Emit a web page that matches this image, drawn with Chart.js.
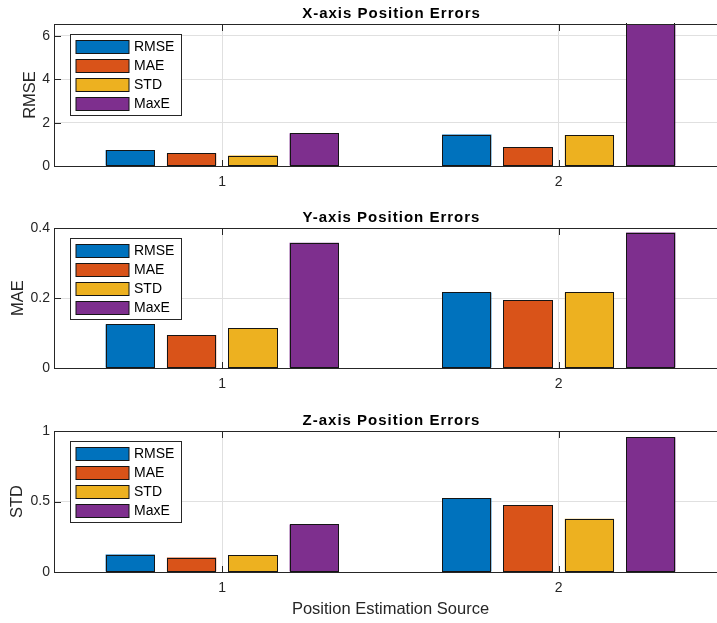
<!DOCTYPE html>
<html>
<head>
<meta charset="utf-8">
<script src="https://cdn.jsdelivr.net/npm/chart.js@4.4.1/dist/chart.umd.min.js"></script>
<style>
  html, body { margin: 0; padding: 0; background: #fff; }
  body { width: 717px; height: 623px; overflow: hidden; position: relative; }
  canvas { position: absolute; left: 0; }
</style>
</head>
<body>
<canvas id="px" width="740" height="200" style="top:0px"></canvas>
<canvas id="py" width="740" height="200" style="top:200px"></canvas>
<canvas id="pz" width="740" height="223" style="top:400px"></canvas>
<script>
// Estimation sources along the x axis
const categories = ['1', '2'];
const metricNames = ['RMSE', 'MAE', 'STD', 'MaxE'];
const metricColors = ['#0072BD', '#D95319', '#EDB120', '#7E2F8E'];

// X-axis position errors per source
const xRmse = [0.74, 1.45];
const xMae  = [0.59, 0.86];
const xStd  = [0.48, 1.43];
const xMaxE = [1.51, 7.0];

// Y-axis position errors per source
const yRmse = [0.125, 0.216];
const yMae  = [0.094, 0.194];
const yStd  = [0.113, 0.216];
const yMaxE = [0.358, 0.387];

// Z-axis position errors per source
const zRmse = [0.124, 0.524];
const zMae  = [0.102, 0.472];
const zStd  = [0.119, 0.377];
const zMaxE = [0.337, 0.955];

// Panel titles, y labels and y ranges
const panelTitles = ['X-axis Position Errors', 'Y-axis Position Errors', 'Z-axis Position Errors'];
const panelYLabels = ['RMSE', 'MAE', 'STD'];
const yMaxes = [6.55, 0.4, 1];
const yStepSizes = [2, 0.2, 0.5];
const xAxisTitle = 'Position Estimation Source';

const FONT = '"Liberation Sans", Arial, Helvetica, sans-serif';
const AXIS = '#262626';
const GRID = '#e0e0e0';
const EDGE = '#151515';

// Crisp dark outlines around each bar element, clipped to the plot area
const barOutline = {
  id: 'barOutline',
  afterDatasetsDraw(chart) {
    const ctx = chart.ctx;
    const a = chart.chartArea;
    ctx.save();
    ctx.beginPath();
    ctx.rect(a.left, a.top - 1, a.right - a.left, a.bottom - a.top + 2);
    ctx.clip();
    ctx.strokeStyle = EDGE;
    ctx.lineWidth = 1;
    chart.data.datasets.forEach((ds, di) => {
      chart.getDatasetMeta(di).data.forEach(bar => {
        const { x, y, base, width } = bar.getProps(['x', 'y', 'base', 'width'], true);
        const l = Math.round(x - width / 2) + 0.5;
        const r = Math.round(x + width / 2) - 0.5;
        const t = Math.round(Math.min(y, base)) + 0.5;
        const b = Math.round(Math.max(y, base)) - 0.5;
        ctx.strokeRect(l, t, r - l, b - t);
      });
    });
    ctx.restore();
  }
};

// Box, inward ticks, legend and title in the MATLAB style
const matlabFrame = {
  id: 'matlabFrame',
  afterDraw(chart, args, opts) {
    const ctx = chart.ctx;
    const a = chart.chartArea;
    const xs = chart.scales.x, ys = chart.scales.y;
    ctx.save();
    // axes box
    ctx.strokeStyle = AXIS;
    ctx.lineWidth = 1;
    const L = Math.round(a.left) + 0.5, R = Math.round(a.right) + 0.5;
    const T = Math.round(a.top) + 0.5, B = Math.round(a.bottom) + 0.5;
    ctx.beginPath();
    ctx.moveTo(L, T); ctx.lineTo(R, T); ctx.lineTo(R, B); ctx.lineTo(L, B); ctx.closePath();
    ctx.stroke();
    // inward tick marks
    const tl = 6.5;
    ctx.beginPath();
    xs.ticks.forEach((t, i) => {
      const px = Math.round(xs.getPixelForTick(i)) + 0.5;
      ctx.moveTo(px, B); ctx.lineTo(px, B - tl);
      ctx.moveTo(px, T); ctx.lineTo(px, T + tl);
    });
    ys.ticks.forEach((t, i) => {
      const py = Math.round(ys.getPixelForTick(i)) + 0.5;
      ctx.moveTo(L, py); ctx.lineTo(L + tl, py);
      ctx.moveTo(R, py); ctx.lineTo(R - tl, py);
    });
    ctx.stroke();

    // title
    ctx.fillStyle = '#000';
    ctx.font = 'bold 15px ' + FONT;
    ctx.textAlign = 'center';
    ctx.textBaseline = 'alphabetic';
    if ('letterSpacing' in ctx) ctx.letterSpacing = '1px';
    ctx.fillText(opts.title, (a.left + a.right) / 2 + 1, a.top - 6.5);
    if ('letterSpacing' in ctx) ctx.letterSpacing = '0px';

    // legend
    const bx = Math.round(a.left) + 16.5, by = Math.round(a.top) + 10.5;
    const bw = 111, bh = 81;
    ctx.fillStyle = '#fff';
    ctx.fillRect(bx, by, bw, bh);
    ctx.strokeStyle = AXIS;
    ctx.strokeRect(bx, by, bw, bh);
    ctx.font = '14px ' + FONT;
    ctx.textAlign = 'left';
    ctx.textBaseline = 'middle';
    chart.data.datasets.forEach((ds, i) => {
      const ry = Math.round(by + 5 + i * 19.1);
      ctx.fillStyle = ds.backgroundColor;
      ctx.fillRect(bx + 5.5, ry, 53, 13);
      ctx.strokeStyle = EDGE;
      ctx.strokeRect(bx + 5.5, ry + 0.5, 53, 13);
      ctx.fillStyle = '#000';
      ctx.fillText(ds.label, bx + 63.5, ry + 7.5);
    });
    ctx.restore();
  }
};

function makePanel(id, series, idx, padTop, xHeight, yTitlePad) {
  const showXTitle = idx === 2;
  return new Chart(document.getElementById(id), {
    type: 'bar',
    data: {
      labels: categories,
      datasets: series.map((vals, i) => ({
        label: metricNames[i],
        data: vals,
        backgroundColor: metricColors[i],
        borderWidth: 0,
        inflateAmount: 0,
        categoryPercentage: 0.729,
        barPercentage: 0.804
      }))
    },
    options: {
      responsive: false,
      animation: false,
      devicePixelRatio: 1,
      layout: { padding: { top: padTop, left: 0, right: 13, bottom: 0 } },
      plugins: {
        legend: { display: false },
        title: { display: false },
        tooltip: { enabled: false },
        matlabFrame: { title: panelTitles[idx] }
      },
      scales: {
        x: {
          offset: true,
          grid: { offset: false, color: GRID, drawTicks: false },
          border: { display: true, color: AXIS },
          ticks: { font: { family: FONT, size: 14 }, color: AXIS, padding: 8 },
          title: {
            display: showXTitle, text: xAxisTitle, color: AXIS,
            font: { family: FONT, size: 16.5 }, padding: { top: 4, bottom: 4 }
          },
          afterFit: s => { s.height = xHeight; }
        },
        y: {
          min: 0,
          max: yMaxes[idx],
          grid: { color: GRID, drawTicks: false },
          border: { display: true, color: AXIS },
          ticks: {
            stepSize: yStepSizes[idx], includeBounds: false,
            font: { family: FONT, size: 14 }, color: AXIS, padding: 4,
            callback: v => String(Number(v.toFixed(3)))
          },
          title: {
            display: true, text: panelYLabels[idx], color: AXIS,
            font: { family: FONT, size: 16.5 }, padding: { top: yTitlePad, bottom: 0 }
          },
          afterFit: s => { s.width = 54; }
        }
      }
    },
    plugins: [barOutline, matlabFrame]
  });
}

makePanel('px', [xRmse, xMae, xStd, xMaxE], 0, 24, 34, 21);
makePanel('py', [yRmse, yMae, yStd, yMaxE], 1, 28, 32, 9);
makePanel('pz', [zRmse, zMae, zStd, zMaxE], 2, 31, 51, 8);
</script>
</body>
</html>
